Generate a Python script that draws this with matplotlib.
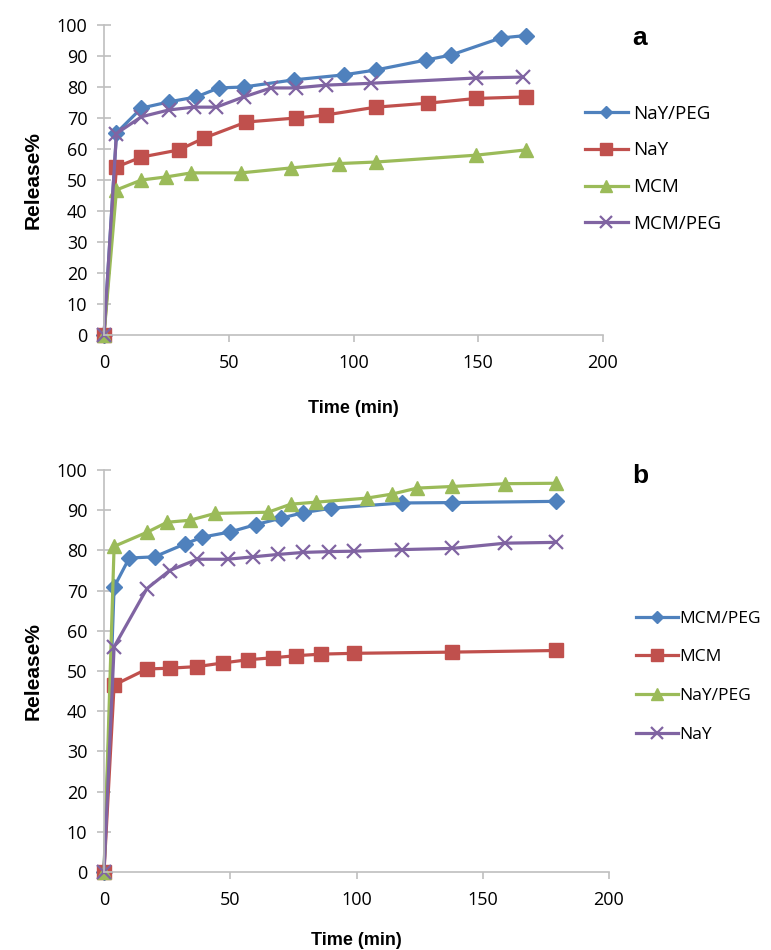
import numpy as np
from matplotlib import pyplot as plt

# panel a
a_nay_peg_t = [0, 5, 15, 26, 37, 46, 56, 76, 96, 109, 129, 139, 159, 169]
a_nay_peg = [0, 65.2, 73.2, 75.2, 76.8, 79.7, 80, 82.3, 83.9, 85.5, 88.7, 90.3, 95.8, 96.6]
a_nay_t = [0, 5, 15, 30, 40, 57, 77, 89, 109, 130, 149, 169]
a_nay = [0, 54.2, 57.4, 59.7, 63.5, 68.7, 70, 71, 73.5, 74.8, 76.3, 76.8]
a_mcm_t = [0, 5, 15, 25, 35, 55, 75, 94, 109, 149, 169]
a_mcm = [0, 46.8, 50, 51, 52.3, 52.3, 53.9, 55.3, 55.8, 58, 59.7]
a_mcm_peg_t = [0, 5, 15, 26, 36, 45, 56, 67, 77, 89, 107, 149, 168]
a_mcm_peg = [0, 65, 70.4, 72.6, 73.5, 73.5, 76.8, 79.7, 79.7, 80.6, 81.2, 82.9, 83.2]

# panel b
b_mcm_peg_t = [0, 4, 10, 20, 32, 39, 50, 60, 70, 79, 90, 118, 138, 179]
b_mcm_peg = [0, 70.9, 78.1, 78.4, 81.6, 83.3, 84.6, 86.4, 88, 89.4, 90.5, 91.8, 91.9, 92.2]
b_mcm_t = [0, 4, 17, 26, 37, 47, 57, 67, 76, 86, 99, 138, 179]
b_mcm = [0, 46.5, 50.5, 50.7, 51.1, 52, 52.8, 53.3, 53.8, 54.2, 54.4, 54.7, 55.1]
b_nay_peg_t = [0, 4, 17, 25, 34, 44, 65, 74, 84, 104, 114, 124, 138, 159, 179]
b_nay_peg = [0, 81, 84.5, 87, 87.5, 89.2, 89.5, 91.5, 92, 93, 94, 95.5, 95.9, 96.6, 96.7]
b_nay_t = [0, 4, 17, 26, 37, 49, 59, 69, 79, 89, 99, 118, 138, 159, 179]
b_nay = [0, 56, 70.5, 75, 77.8, 77.8, 78.4, 79, 79.5, 79.7, 79.8, 80.2, 80.5, 81.8, 82]

blue = '#4F81BD'
red = '#C0504D'
green = '#9BBB59'
purple = '#8064A2'
axcol = '#BFBFBF'

plt.rcParams['font.family'] = ['Open Sans', 'DejaVu Sans']

fig = plt.figure(figsize=(7.71, 9.5), dpi=100)
ax1 = fig.add_axes([104/771, 1-335/950, 499/771, 310/950])
ax2 = fig.add_axes([104/771, 1-872/950, 505/771, 402/950])

def style(ax, xpad):
    ax.set_xlim(0, 200)
    ax.set_ylim(0, 100)
    ax.set_xticks([0, 50, 100, 150, 200])
    ax.set_yticks(range(0, 101, 10))
    for s in ['top', 'right']:
        ax.spines[s].set_visible(False)
    for s in ['left', 'bottom']:
        ax.spines[s].set_color(axcol)
        ax.spines[s].set_linewidth(1.2)
    ax.tick_params(axis='y', direction='inout', length=10, width=1.2, color=axcol, labelsize=13, pad=7)
    ax.tick_params(axis='x', direction='out', length=5, width=1.2, color=axcol, labelsize=13, pad=9)
    ax.set_xlabel('Time (min)', fontsize=13, fontweight='bold', family='Liberation Sans', labelpad=xpad)
    ax.set_ylabel('Release%', fontsize=15, fontweight='bold', family='Liberation Sans', labelpad=10)

def series(ax, t, v, color, marker, ms, label):
    kw = dict(color=color, lw=2.3, marker=marker, ms=ms, label=label, clip_on=False)
    if marker == 'x':
        kw.update(mew=1.6)
    else:
        kw.update(mec=color, mfc=color)
    ax.plot(t, v, **kw)

series(ax1, a_nay_peg_t, a_nay_peg, blue, 'D', 8, 'NaY/PEG')
series(ax1, a_nay_t, a_nay, red, 's', 10.5, 'NaY')
series(ax1, a_mcm_t, a_mcm, green, '^', 10, 'MCM')
series(ax1, a_mcm_peg_t, a_mcm_peg, purple, 'x', 10, 'MCM/PEG')
style(ax1, 20)
ax1.legend(loc='upper left', bbox_to_anchor=(0.945, 0.773), frameon=False, fontsize=13.5,
           handlelength=2.3, handletextpad=0.25, labelspacing=1.0, markerscale=0.8, borderpad=0)
ax1.text(640/771, 1-38/950, 'a', transform=fig.transFigure, fontsize=19, fontweight='bold',
         family='Liberation Sans', ha='center', va='center')

series(ax2, b_mcm_peg_t, b_mcm_peg, blue, 'D', 8, 'MCM/PEG')
series(ax2, b_mcm_t, b_mcm, red, 's', 10.5, 'MCM')
series(ax2, b_nay_peg_t, b_nay_peg, green, '^', 10, 'NaY/PEG')
series(ax2, b_nay_t, b_nay, purple, 'x', 10, 'NaY')
style(ax2, 16)
ax2.legend(loc='upper left', bbox_to_anchor=(1.036, 0.672), frameon=False, fontsize=12.5,
           handlelength=2.4, handletextpad=0.1, labelspacing=1.3, markerscale=0.8, borderpad=0)
ax2.text(640/771, 1-476/950, 'b', transform=fig.transFigure, fontsize=19, fontweight='bold',
         family='Liberation Sans', ha='center', va='center')

plt.savefig('out.png', dpi=100)
